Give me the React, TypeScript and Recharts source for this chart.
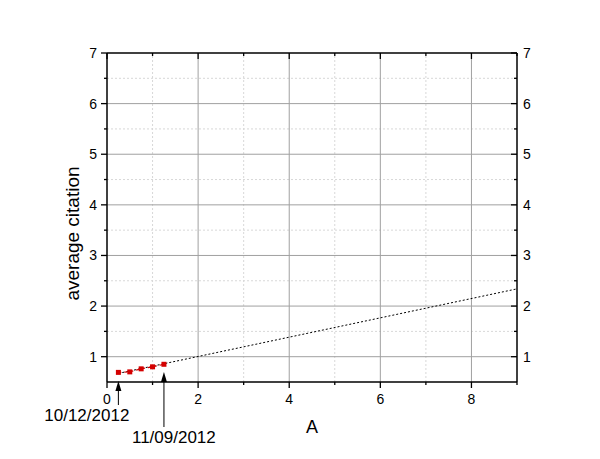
import React from "react";
import {
  ComposedChart,
  Line,
  XAxis,
  YAxis,
  ReferenceLine,
  ReferenceDot,
} from "recharts";

// measured points (red squares)
const pointX = [0.25, 0.5, 0.75, 1.0, 1.25];
const pointY = [0.69, 0.7, 0.76, 0.8, 0.85];

// linear fit (black dotted)
const fitX = [0.25, 9];
const fitY = [0.67, 2.34];

const xTicks = [0, 1, 2, 3, 4, 5, 6, 7, 8, 9];
const xLabels = [0, 2, 4, 6, 8];
const yTicks = [1, 1.5, 2, 2.5, 3, 3.5, 4, 4.5, 5, 5.5, 6, 6.5, 7];
const yLabels = [1, 2, 3, 4, 5, 6, 7];

const xGridMajor = [2, 4, 6, 8];
const xGridMinor = [1, 3, 5, 7];
const yGridMajor = [1, 2, 3, 4, 5, 6];
const yGridMinor = [1.5, 2.5, 3.5, 4.5, 5.5, 6.5];

const arrowX = [0.25, 1.25];
const arrowDates = ["10/12/2012", "11/09/2012"];

const pointData = pointX.map((x, i) => ({ x, y: pointY[i] }));
const fitData = fitX.map((x, i) => ({ x, y: fitY[i] }));

const FONT = "'Liberation Sans', Arial, sans-serif";

const BottomTick = (props: any) => {
  const { x, y, payload } = props;
  const major = xLabels.includes(payload.value);
  return (
    <g>
      <line x1={x} x2={x} y1={y} y2={y + (major ? 6 : 3)} stroke="#000" strokeWidth={1.3} />
      {major && (
        <text x={x} y={y + 22} textAnchor="middle" fontSize={14} fontFamily={FONT} fill="#000">
          {payload.value}
        </text>
      )}
    </g>
  );
};

const TopTick = (props: any) => {
  const { x, y, payload } = props;
  const major = xLabels.includes(payload.value);
  return <line x1={x} x2={x} y1={y} y2={y + (major ? 6 : 3)} stroke="#000" strokeWidth={1.3} />;
};

const LeftTick = (props: any) => {
  const { x, y, payload } = props;
  const major = yLabels.includes(payload.value);
  return (
    <g>
      <line x1={x} x2={x - (major ? 6 : 3)} y1={y} y2={y} stroke="#000" strokeWidth={1.3} />
      {major && (
        <text x={x - 10} y={y + 5} textAnchor="end" fontSize={14} fontFamily={FONT} fill="#000">
          {payload.value}
        </text>
      )}
    </g>
  );
};

const RightTick = (props: any) => {
  const { x, y, payload } = props;
  const major = yLabels.includes(payload.value);
  return (
    <g>
      <line x1={x} x2={x - (major ? 6 : 3)} y1={y} y2={y} stroke="#000" strokeWidth={1.3} />
      {major && (
        <text x={x + 6} y={y + 5} textAnchor="start" fontSize={14} fontFamily={FONT} fill="#000">
          {payload.value}
        </text>
      )}
    </g>
  );
};

const SquareDot = (props: any) => {
  const { cx, cy } = props;
  return <rect x={cx - 2.5} y={cy - 2.5} width={5} height={5} fill="#d40000" />;
};

const makeArrow = (idx: number) => (props: any) => {
  const { cx, cy } = props;
  const head = idx === 0 ? cy - 1 : cy - 10;
  const tail = idx === 0 ? cy + 23 : cy + 45;
  const tx = idx === 0 ? cx + 11 : cx - 32;
  const ty = idx === 0 ? cy + 39 : cy + 61;
  return (
    <g>
      <line x1={cx} x2={cx} y1={head + 8} y2={tail} stroke="#000" strokeWidth={1} />
      <polygon points={`${cx},${head} ${cx - 3},${head + 10} ${cx + 3},${head + 10}`} fill="#000" />
      <text
        x={tx}
        y={ty}
        textAnchor={idx === 0 ? "end" : "start"}
        fontSize={17}
        fontFamily={FONT}
        fill="#000"
      >
        {arrowDates[idx]}
      </text>
    </g>
  );
};

export default function App() {
  return (
    <div style={{ position: "absolute", left: 0, top: 0, background: "#fff" }}>
      <ComposedChart
        width={600}
        height={459}
        margin={{ top: 23, right: 23, bottom: 47, left: 47 }}
      >
        <XAxis
          xAxisId={0}
          dataKey="x"
          type="number"
          domain={[0, 9]}
          ticks={xTicks}
          interval={0}
          allowDataOverflow
          height={30}
          tickSize={0}
          tickMargin={0}
          tickLine={false}
          axisLine={{ stroke: "#000", strokeWidth: 1.5 }}
          tick={<BottomTick />}
          label={{
            content: (p: any) => {
              const vb = p.viewBox;
              return (
                <text x={vb.x + vb.width / 2} y={vb.y + 51} textAnchor="middle" fontSize={18} fontFamily={FONT} fill="#000">
                  A
                </text>
              );
            },
          }}
        />
        <XAxis
          xAxisId={1}
          orientation="top"
          dataKey="x"
          type="number"
          domain={[0, 9]}
          ticks={xTicks}
          interval={0}
          allowDataOverflow
          height={30}
          tickSize={0}
          tickMargin={0}
          tickLine={false}
          axisLine={{ stroke: "#000", strokeWidth: 1.5 }}
          tick={<TopTick />}
        />
        <YAxis
          yAxisId={0}
          type="number"
          domain={[0.5, 7]}
          ticks={yTicks}
          interval={0}
          allowDataOverflow
          width={60}
          tickSize={0}
          tickMargin={0}
          tickLine={false}
          axisLine={{ stroke: "#000", strokeWidth: 1.5 }}
          tick={<LeftTick />}
          label={{
            content: (p: any) => {
              const vb = p.viewBox;
              const cx = vb.x + 25;
              const cy = vb.y + vb.height / 2 + 16;
              return (
                <text
                  x={cx}
                  y={cy}
                  transform={`rotate(-90 ${cx} ${cy})`}
                  textAnchor="middle"
                  dominantBaseline="central"
                  fontSize={19}
                  fontFamily={FONT}
                  fill="#000"
                >
                  average citation
                </text>
              );
            },
          }}
        />
        <YAxis
          yAxisId={1}
          orientation="right"
          type="number"
          domain={[0.5, 7]}
          ticks={yTicks}
          interval={0}
          allowDataOverflow
          width={60}
          tickSize={0}
          tickMargin={0}
          tickLine={false}
          axisLine={{ stroke: "#000", strokeWidth: 1.5 }}
          tick={<RightTick />}
        />

        {xGridMinor.map((v) => (
          <ReferenceLine key={`xm${v}`} x={v} stroke="#d8d8d8" strokeDasharray="2 2" />
        ))}
        {yGridMinor.map((v) => (
          <ReferenceLine key={`ym${v}`} y={v} stroke="#d8d8d8" strokeDasharray="2 2" />
        ))}
        {xGridMajor.map((v) => (
          <ReferenceLine key={`xM${v}`} x={v} stroke="#a0a0a0" />
        ))}
        {yGridMajor.map((v) => (
          <ReferenceLine key={`yM${v}`} y={v} stroke="#a0a0a0" />
        ))}

        <Line
          data={fitData}
          dataKey="y"
          type="linear"
          stroke="#000"
          strokeWidth={1}
          strokeDasharray="2 2"
          dot={false}
          activeDot={false}
          isAnimationActive={false}
        />
        <Line
          data={pointData}
          dataKey="y"
          type="linear"
          stroke="#d40000"
          strokeWidth={1.2}
          strokeDasharray="3 3"
          dot={<SquareDot />}
          activeDot={false}
          isAnimationActive={false}
        />

        {arrowX.map((v, i) => (
          <ReferenceDot
            key={`ar${i}`}
            x={v}
            y={0.5}
            ifOverflow="visible"
            shape={makeArrow(i)}
          />
        ))}
      </ComposedChart>
    </div>
  );
}
